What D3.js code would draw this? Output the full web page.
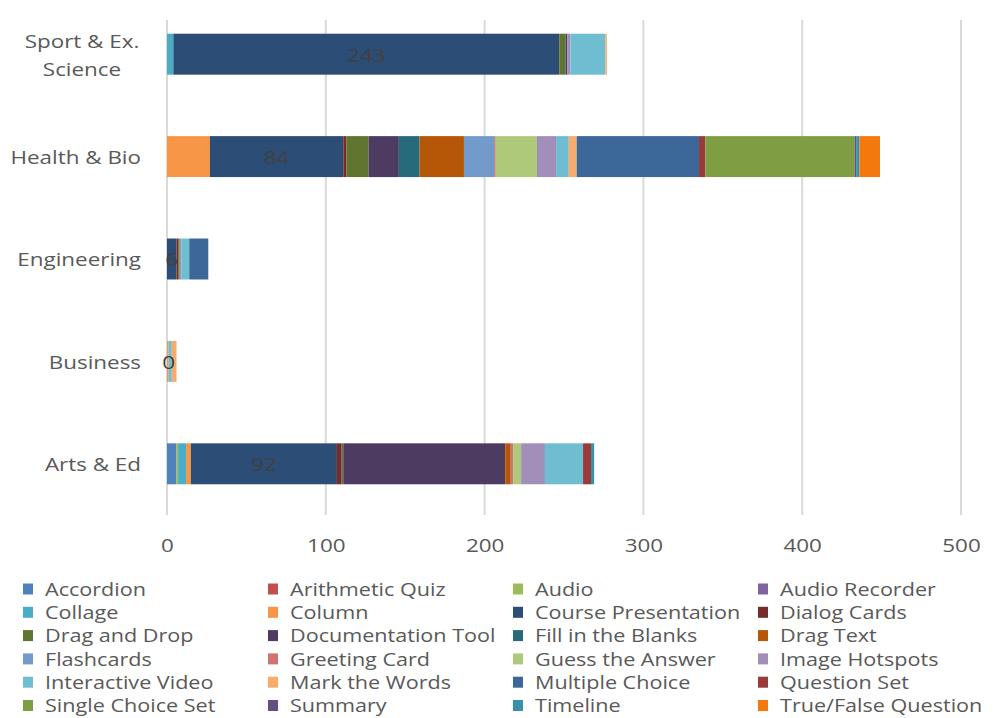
<!DOCTYPE html>
<html>
<head>
<meta charset="utf-8">
<script src="https://cdn.jsdelivr.net/npm/d3@7"></script>
<style>
  html, body { margin: 0; padding: 0; background: #fff; }
  svg { display: block; }
  text { font-family: "Open Sans", "DejaVu Sans", sans-serif; }
</style>
</head>
<body>
<script>
// ---------- DATA ----------
const categories = ["Sport & Ex. Science", "Health & Bio", "Engineering", "Business", "Arts & Ed"];
const categoryLines = [["Sport & Ex.", "Science"], ["Health & Bio"], ["Engineering"], ["Business"], ["Arts & Ed"]];
const seriesNames = [
  "Accordion", "Arithmetic Quiz", "Audio", "Audio Recorder",
  "Collage", "Column", "Course Presentation", "Dialog Cards",
  "Drag and Drop", "Documentation Tool", "Fill in the Blanks", "Drag Text",
  "Flashcards", "Greeting Card", "Guess the Answer", "Image Hotspots",
  "Interactive Video", "Mark the Words", "Multiple Choice", "Question Set",
  "Single Choice Set", "Summary", "Timeline", "True/False Question"
];
// values per series, in category order [Sport, Health, Engineering, Business, Arts]
const accordion          = [0, 0, 0, 0, 6];
const arithmeticQuiz     = [0, 0, 0, 0, 0];
const audio              = [0, 0, 0, 0, 1];
const audioRecorder      = [0, 0, 0, 0, 0];
const collage            = [4, 0, 0, 0, 5];
const column             = [0, 27, 0, 1, 3];
const coursePresentation = [243, 84, 6, 0, 92];
const dialogCards        = [0, 2, 1, 0, 3];
const dragAndDrop        = [4, 14, 1, 0, 1];
const documentationTool  = [1, 19, 0, 0, 102];
const fillInTheBlanks    = [0, 13, 0, 0, 0];
const dragText           = [0, 28, 0, 0, 3];
const flashcards         = [0, 19, 0, 0, 0];
const greetingCard       = [0, 1, 0, 0, 2];
const guessTheAnswer     = [0, 26, 0, 0, 5];
const imageHotspots      = [2, 12, 1, 0, 15];
const interactiveVideo   = [22, 8, 5, 2, 24];
const markTheWords       = [1, 5, 0, 3, 0];
const multipleChoice     = [0, 77, 12, 0, 0];
const questionSet        = [0, 4, 0, 0, 5];
const singleChoiceSet    = [0, 94, 0, 0, 0];
const summary            = [0, 1, 0, 0, 0];
const timeline           = [0, 2, 0, 0, 2];
const trueFalseQuestion  = [0, 13, 0, 0, 0];
const xTicks = [0, 100, 200, 300, 400, 500];

const seriesValues = [
  accordion, arithmeticQuiz, audio, audioRecorder,
  collage, column, coursePresentation, dialogCards,
  dragAndDrop, documentationTool, fillInTheBlanks, dragText,
  flashcards, greetingCard, guessTheAnswer, imageHotspots,
  interactiveVideo, markTheWords, multipleChoice, questionSet,
  singleChoiceSet, summary, timeline, trueFalseQuestion
];
const labelSeries = "Course Presentation";

// ---------- STYLE ----------
const colors = [
  "#4F81BD", "#C0504D", "#9BBB59", "#8064A2",
  "#4BACC6", "#F79646", "#2C4D75", "#772C2A",
  "#5F7530", "#4D3B62", "#276A7C", "#B65708",
  "#729ACA", "#CD7371", "#AFC97A", "#A18FB9",
  "#6FBDD1", "#F9AB6B", "#3B6899", "#9B3B39",
  "#7F9E43", "#664F83", "#3791A8", "#F5780D"
];
const W = 994, H = 718;
const SX = 1.18; // horizontal text stretch
const textColor = "#595959";

const svg = d3.select("body").append("svg").attr("width", W).attr("height", H);

// Build table
const table = categories.map((c, i) => {
  const row = { category: c };
  seriesNames.forEach((s, j) => row[s] = seriesValues[j][i]);
  return row;
});
const stacked = d3.stack().keys(seriesNames)(table);

const x = d3.scaleLinear().domain([0, 500]).range([167, 961]);
const y = d3.scaleBand().domain(categories).range([3, 515]).paddingInner(0.6).paddingOuter(0.3);

// gridlines
svg.append("g").selectAll("line").data(xTicks).join("line")
  .attr("x1", d => x(d)).attr("x2", d => x(d))
  .attr("y1", 20).attr("y2", 515)
  .attr("stroke", "#D9D9D9").attr("stroke-width", 2);

// bars
const layers = svg.append("g").selectAll("g").data(stacked).join("g")
  .attr("fill", (d, i) => colors[i]);
layers.selectAll("rect").data(d => d.map(v => ({ v, key: d.key }))).join("rect")
  .attr("x", d => x(d.v[0]))
  .attr("width", d => Math.max(0, x(d.v[1]) - x(d.v[0])))
  .attr("y", d => y(d.v.data.category))
  .attr("height", y.bandwidth());

// data labels for Course Presentation
const lblLayer = stacked.find(s => s.key === labelSeries);
svg.append("g").selectAll("text").data(lblLayer).join("text")
  .attr("transform", d => `translate(${(x(d[0]) + x(d[1])) / 2},${y(d.data.category) + y.bandwidth() / 2}) scale(${SX},1)`)
  .attr("text-anchor", "middle").attr("dominant-baseline", "central")
  .attr("font-size", 19).attr("fill", "#404040")
  .text(d => d[1] - d[0]);

// x axis tick labels
const xAxis = d3.axisBottom(x).tickValues(xTicks).tickSize(0).tickPadding(0);
const gx = svg.append("g").attr("transform", "translate(0,545)").call(xAxis);
gx.select(".domain").remove();
gx.selectAll("text")
  .attr("y", 0).attr("dy", null)
  .attr("dominant-baseline", "central")
  .attr("font-size", 19).attr("fill", textColor)
  .attr("font-family", "Open Sans")
  .attr("transform", `scale(${SX},1)`);

// y category labels
const yl = svg.append("g").selectAll("g").data(categories).join("g")
  .attr("transform", d => `translate(141,${y(d) + y.bandwidth() / 2}) scale(${SX},1)`);
yl.each(function (d, i) {
  const lines = categoryLines[i];
  const g = d3.select(this);
  lines.forEach((ln, k) => {
    g.append("text")
      .attr("x", lines.length > 1 ? -50 : 0)
      .attr("y", (k - (lines.length - 1) / 2) * 28)
      .attr("text-anchor", lines.length > 1 ? "middle" : "end")
      .attr("dominant-baseline", "central")
      .attr("font-size", 19).attr("fill", textColor)
      .text(ln);
  });
});

// legend
const legend = svg.append("g").selectAll("g").data(seriesNames).join("g")
  .attr("transform", (d, i) => `translate(${23 + (i % 4) * 245},${589 + Math.floor(i / 4) * 23.3})`);
legend.append("rect").attr("x", 0).attr("y", -5.5).attr("width", 10).attr("height", 11)
  .attr("fill", (d, i) => colors[i]);
legend.append("text")
  .attr("transform", `translate(22,0) scale(${SX},1)`)
  .attr("dominant-baseline", "central")
  .attr("font-size", 18.3).attr("fill", textColor)
  .text(d => d);
</script>
</body>
</html>
